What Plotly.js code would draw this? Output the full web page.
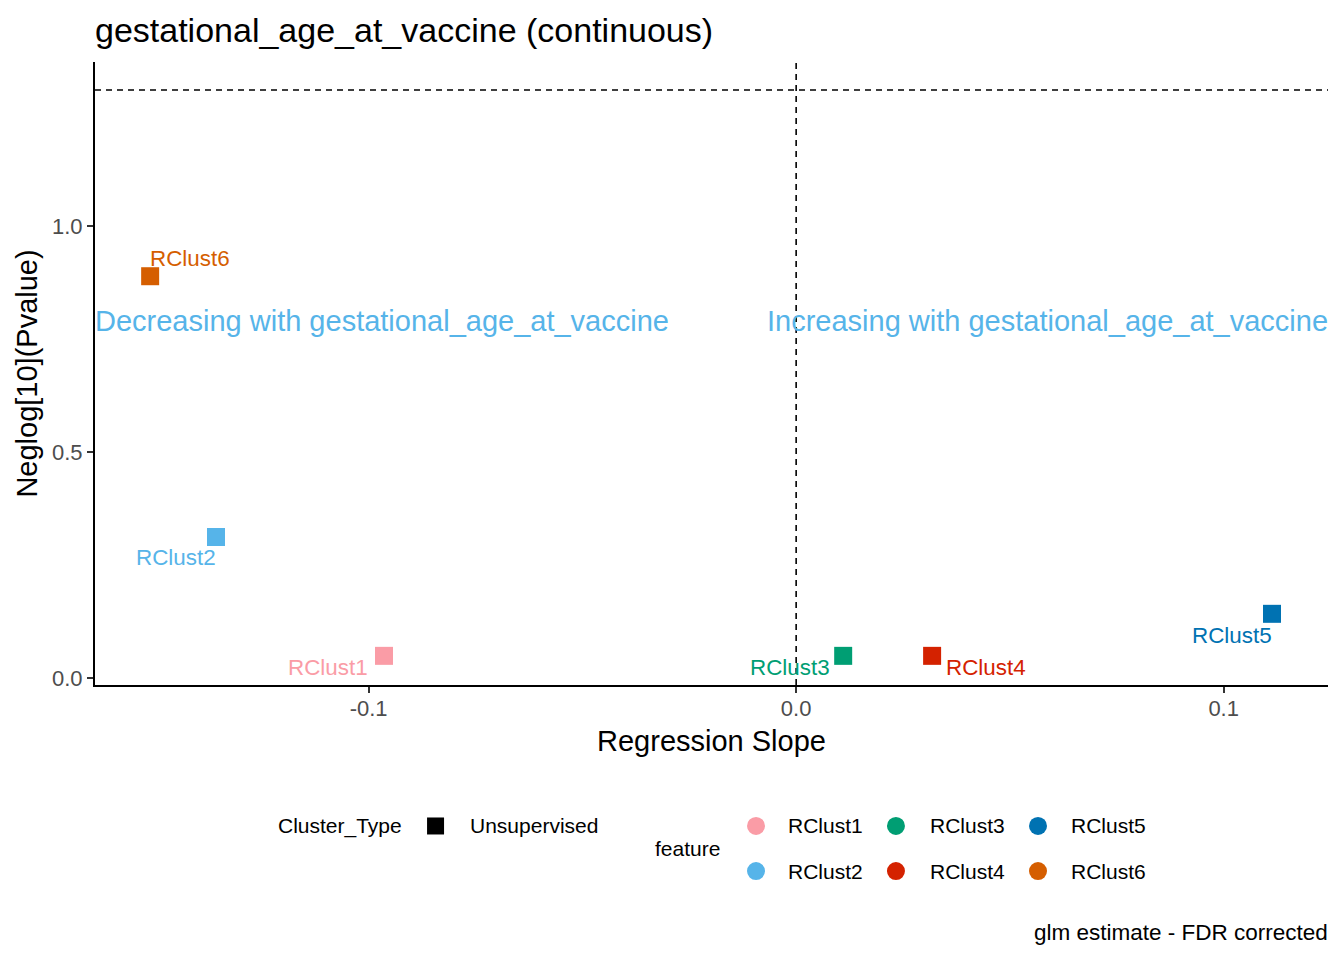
<!DOCTYPE html>
<html>
<head>
<meta charset="utf-8">
<script src="https://cdn.plot.ly/plotly-3.0.1.min.js"></script>
<style>
  html, body { margin: 0; padding: 0; background: #fff; }
  #chart { width: 1344px; height: 960px; }
</style>
</head>
<body>
<div id="chart"></div>
<script>
// data
const features = ["RClust1", "RClust2", "RClust3", "RClust4", "RClust5", "RClust6"];
const slopes = [-0.0964, -0.1357, 0.0110, 0.0318, 0.1113, -0.1511];
const neglogP = [0.049, 0.312, 0.049, 0.049, 0.142, 0.889];
const colors = ["#FA9CA6", "#56B4E9", "#009E73", "#D42200", "#0072B2", "#D55E00"];
const xTicks = [-0.1, 0.0, 0.1];
const xTickText = ["-0.1", "0.0", "0.1"];
const yTicks = [0.0, 0.5, 1.0];
const yTickText = ["0.0", "0.5", "1.0"];
const pThreshold = 1.301;

// label placement (pixels) around each point, like ggrepel did
const labelPlace = [
  { anchor: "right", dx: -14, dy: -12 },
  { anchor: "right", dx: 2, dy: -21 },
  { anchor: "right", dx: -11, dy: -12 },
  { anchor: "left", dx: 12, dy: -12 },
  { anchor: "right", dx: 2, dy: -22 },
  { anchor: "left", dx: -2, dy: 18 },
];

const font = "Liberation Sans, Arial, sans-serif";

const traces = [{
  x: slopes,
  y: neglogP,
  type: "scatter",
  mode: "markers",
  marker: { symbol: "square", size: 18, color: colors },
  showlegend: false,
  hoverinfo: "text",
  text: features,
}];

const annotations = features.map((f, i) => ({
  x: slopes[i], y: neglogP[i], xref: "x", yref: "y",
  text: f, showarrow: false,
  xanchor: labelPlace[i].anchor, yanchor: "middle",
  xshift: labelPlace[i].dx, yshift: labelPlace[i].dy,
  font: { family: font, size: 22.4, color: colors[i] },
}));

annotations.push(
  { x: 0, y: 0.79, xref: "paper", yref: "y", text: "Decreasing with gestational_age_at_vaccine", xshift: -2,
    showarrow: false, xanchor: "left", yanchor: "middle", font: { family: font, size: 29, color: "#56B4E9" } },
  { x: 1, y: 0.79, xref: "paper", yref: "y", text: "Increasing with gestational_age_at_vaccine", xshift: 2,
    showarrow: false, xanchor: "right", yanchor: "middle", font: { family: font, size: 29, color: "#56B4E9" } }
);

// legend built by hand, ggplot style
const row1 = -0.2263, row2 = -0.2986;
const legFont = { family: font, size: 21, color: "#000" };
annotations.push(
  { x: 0.1484, y: row1, xref: "paper", yref: "paper", text: "Cluster_Type", showarrow: false,
    xanchor: "left", yanchor: "middle", xshift: -2, font: legFont },
  { x: 0.3041, y: row1, xref: "paper", yref: "paper", text: "Unsupervised", showarrow: false,
    xanchor: "left", yanchor: "middle", xshift: -2, font: legFont },
  { x: 0.4542, y: -0.2632, xref: "paper", yref: "paper", text: "feature", showarrow: false,
    xanchor: "left", yanchor: "middle", xshift: -2, font: legFont },
  { x: 1, y: -0.398, xref: "paper", yref: "paper", text: "glm estimate - FDR corrected", showarrow: false,
    xanchor: "right", yanchor: "middle", xshift: 2, font: { family: font, size: 22.5, color: "#000" } }
);

const shapes = [
  { type: "line", xref: "paper", yref: "y", x0: 0, x1: 1, y0: pThreshold, y1: pThreshold,
    line: { color: "#000", width: 1.6, dash: "6px,5px" } },
  { type: "line", xref: "x", yref: "paper", x0: 0, x1: 0, y0: 0, y1: 1,
    line: { color: "#000", width: 1.6, dash: "6px,5px" } },
  { type: "rect", xref: "paper", yref: "paper", xsizemode: "pixel", ysizemode: "pixel",
    xanchor: 0.2762, yanchor: row1, x0: -8.5, x1: 8.5, y0: -8.5, y1: 8.5,
    fillcolor: "#000", line: { width: 0 } },
];

const colX = [0.5361, 0.6496, 0.7648];
const textX = [0.5620, 0.6772, 0.7916];
features.forEach((f, i) => {
  const c = Math.floor(i / 2), r = i % 2 === 0 ? row1 : row2;
  shapes.push({ type: "circle", xref: "paper", yref: "paper", xsizemode: "pixel", ysizemode: "pixel",
    xanchor: colX[c], yanchor: r, x0: -9, x1: 9, y0: -9, y1: 9,
    fillcolor: colors[i], line: { width: 0 } });
  annotations.push({ x: textX[c], y: r, xref: "paper", yref: "paper", text: f, showarrow: false,
    xanchor: "left", yanchor: "middle", xshift: -2, font: legFont });
});

const layout = {
  width: 1344,
  height: 960,
  paper_bgcolor: "#fff",
  plot_bgcolor: "#fff",
  margin: { l: 95, r: 16, t: 62, b: 275 },
  font: { family: font },
  title: {
    text: "gestational_age_at_vaccine (continuous)",
    x: 0, xref: "paper", xanchor: "left",
    y: 0.969, yref: "container", yanchor: "middle",
    font: { family: font, size: 34, color: "#000" },
  },
  xaxis: {
    range: [-0.164, 0.1244],
    tickvals: xTicks, ticktext: xTickText,
    showgrid: false, zeroline: false,
    showline: true, linecolor: "#000", linewidth: 2,
    ticks: "outside", ticklen: 6, tickwidth: 2, tickcolor: "#333",
    ticklabelstandoff: -3,
    tickfont: { family: font, size: 22, color: "#4D4D4D" },
    title: { text: "Regression Slope", standoff: 10, font: { family: font, size: 29, color: "#000" } },
  },
  yaxis: {
    range: [-0.0155, 1.363],
    tickvals: yTicks, ticktext: yTickText,
    showgrid: false, zeroline: false,
    showline: true, linecolor: "#000", linewidth: 2,
    ticks: "outside", ticklen: 6, tickwidth: 2, tickcolor: "#333",
    tickfont: { family: font, size: 22, color: "#4D4D4D" },
    title: { text: "Neglog[10](Pvalue)", standoff: 6, font: { family: font, size: 29, color: "#000" } },
  },
  shapes: shapes,
  annotations: annotations,
  showlegend: false,
};

Plotly.newPlot("chart", traces, layout, { displayModeBar: false, staticPlot: true });
</script>
</body>
</html>
